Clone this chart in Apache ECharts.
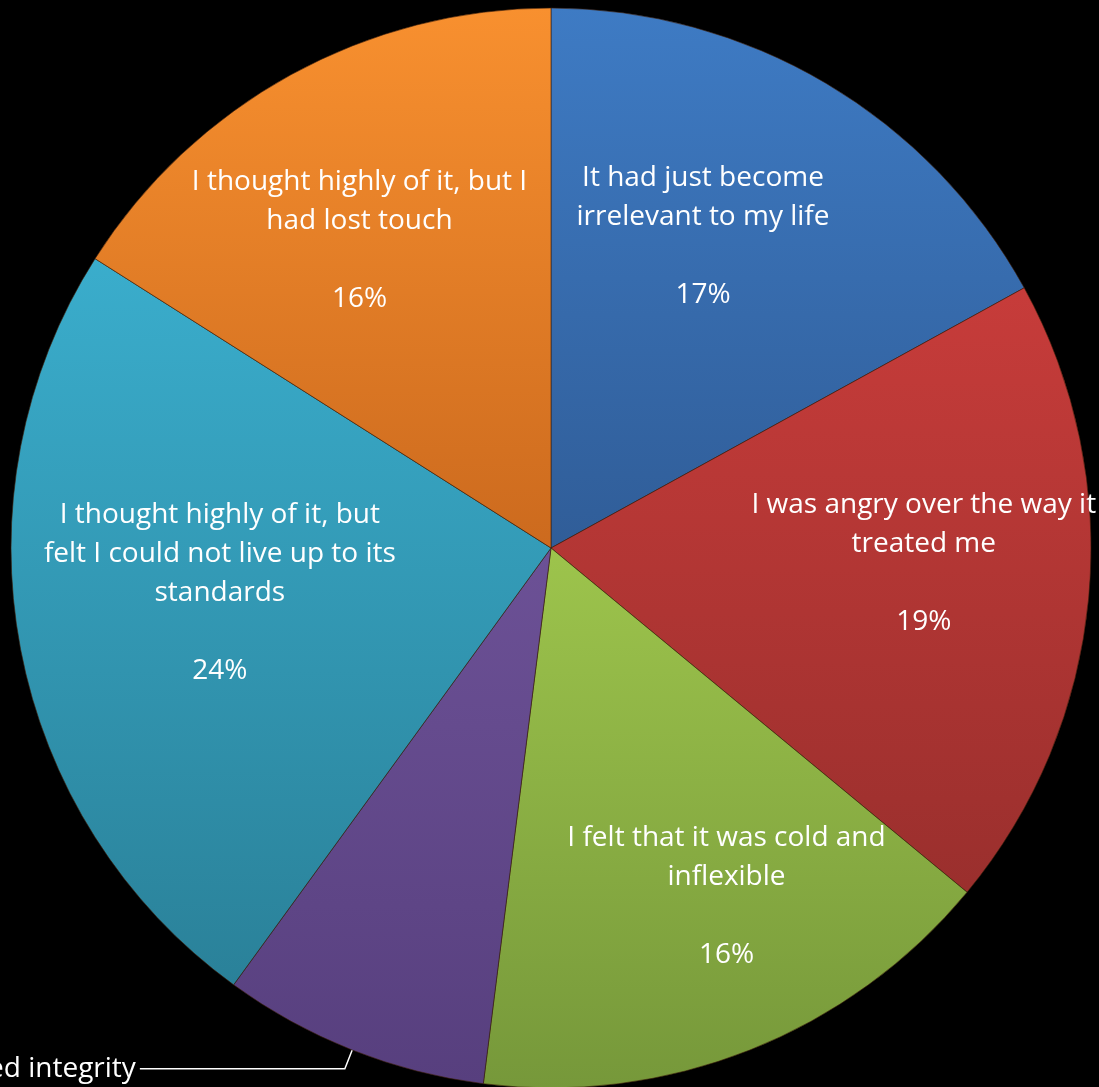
<!DOCTYPE html>
<html>
<head>
<meta charset="utf-8">
<title>Pie</title>
<script src="https://cdn.jsdelivr.net/npm/echarts@6/dist/echarts.min.js"></script>
<style>
  html, body { margin: 0; padding: 0; background: #000; }
  #chart { width: 1099px; height: 1087px; }
</style>
</head>
<body>
<div id="chart"></div>
<script>
// 数据
var categories = [
  'It had just become\nirrelevant to my life',
  'I was angry over the way it\ntreated me',
  'I felt that it was cold and\ninflexible',
  'I felt that it lacked integrity',
  'I thought highly of it, but\nfelt I could not live up to its\nstandards',
  'I thought highly of it, but I\nhad lost touch'
];
var values = [17, 19, 16, 8, 24, 16];

// top / bottom colours of each slice gradient
var topColors = ['#3e7bc4', '#c73c3a', '#9dc44c', '#6c5196', '#3aadcc', '#f8902f'];
var bottomColors = ['#305d98', '#9a2f2d', '#76983a', '#573f7e', '#2a8199', '#cc6a1e'];

// label nudges from the default inside position
var labelOffsets = [[13, -76], [101, -10], [75, 95], null, [-63, -6], [-60, -68]];

var chart = echarts.init(document.getElementById('chart'));

var seriesData = categories.map(function(name, i) {
  var item = {
    name: name,
    value: values[i],
    itemStyle: {
      color: {
        type: 'linear', x: 0, y: 0, x2: 0, y2: 1,
        colorStops: [
          { offset: 0, color: topColors[i] },
          { offset: 1, color: bottomColors[i] }
        ]
      }
    }
  };
  if (labelOffsets[i]) {
    item.label = { position: 'inside', offset: labelOffsets[i] };
    item.labelLine = { show: false };
  } else {
    item.label = {
      position: 'outside',
      formatter: '{b}',
      overflow: 'none',
      align: 'right',
      distanceToLabelLine: 4
    };
    item.labelLine = {
      show: true,
      length: 20,
      length2: 205,
      smooth: false,
      lineStyle: { color: '#fff', width: 1.5 }
    };
  }
  return item;
});

var option = {
  backgroundColor: '#000',
  animation: false,
  series: [{
    type: 'pie',
    center: [551, 548],
    radius: 540,
    startAngle: 90,
    clockwise: true,
    avoidLabelOverlap: false,
    itemStyle: {
      borderColor: 'rgba(60,30,10,0.6)',
      borderWidth: 1
    },
    label: {
      color: '#fff',
      fontFamily: 'Open Sans',
      fontSize: 28,
      lineHeight: 39,
      align: 'center',
      overflow: 'none',
      formatter: '{b}\n\n{d}%'
    },
    data: seriesData
  }]
};

chart.setOption(option);
</script>
</body>
</html>
